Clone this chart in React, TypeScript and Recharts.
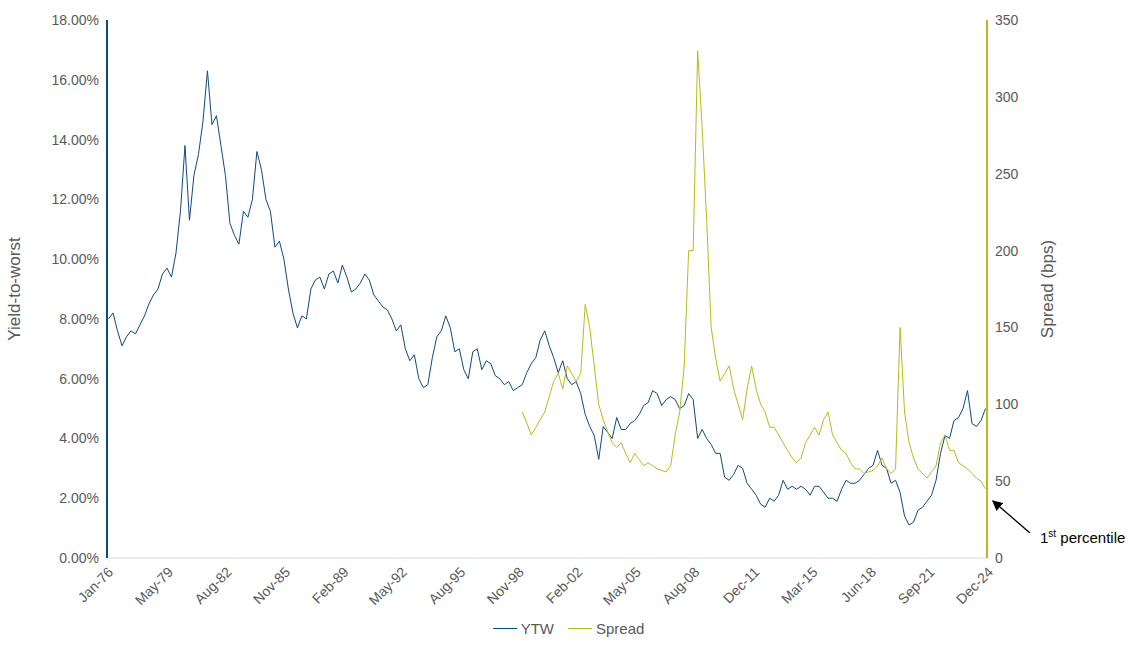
import { Legend, Line, LineChart, XAxis, YAxis } from 'recharts';

// Quarterly readings (Feb, May, Aug, Nov) per year
const ytwStartYear = 1976;
const ytwQuarterly = [
  8.0, 8.2, 7.6, 7.1, 7.4, 7.6, 7.5, 7.8, 8.1, 8.5, 8.8, 9.0, 9.5, 9.7, 9.4, 10.2,
  11.6, 13.8, 11.3, 12.8, 13.5, 14.6, 16.3, 14.5, 14.8, 13.8, 12.8, 11.2, 10.8, 10.5, 11.6, 11.4,
  12.0, 13.6, 13.0, 12.0, 11.6, 10.4, 10.6, 10.0, 9.0, 8.2, 7.7, 8.1, 8.0, 9.0, 9.3, 9.4,
  9.0, 9.5, 9.6, 9.2, 9.8, 9.4, 8.9, 9.0, 9.2, 9.5, 9.3, 8.8, 8.6, 8.4, 8.3, 8.0,
  7.6, 7.8, 7.0, 6.6, 6.8, 6.0, 5.7, 5.8, 6.7, 7.4, 7.6, 8.1, 7.7, 6.9, 7.0, 6.3,
  6.0, 6.9, 7.0, 6.3, 6.6, 6.5, 6.1, 6.0, 5.8, 5.9, 5.6, 5.7, 5.8, 6.2, 6.5, 6.7,
  7.3, 7.6, 7.1, 6.7, 6.2, 6.6, 6.0, 5.8, 5.9, 5.5, 4.8, 4.4, 4.1, 3.3, 4.4, 4.2,
  4.0, 4.7, 4.3, 4.3, 4.5, 4.6, 4.8, 5.1, 5.2, 5.6, 5.5, 5.1, 5.3, 5.4, 5.3, 5.0,
  5.1, 5.5, 5.3, 4.0, 4.3, 4.0, 3.8, 3.5, 3.5, 2.7, 2.6, 2.8, 3.1, 3.0, 2.5, 2.3,
  2.1, 1.8, 1.7, 2.0, 1.9, 2.1, 2.6, 2.3, 2.4, 2.3, 2.4, 2.3, 2.1, 2.4, 2.4, 2.2,
  2.0, 2.0, 1.9, 2.3, 2.6, 2.5, 2.5, 2.6, 2.8, 3.0, 3.1, 3.6, 3.1, 3.0, 2.5, 2.6,
  2.2, 1.4, 1.1, 1.2, 1.6, 1.7, 1.9, 2.1, 2.6, 3.5, 4.1, 4.0, 4.6, 4.7, 5.0, 5.6,
  4.5, 4.4, 4.6, 5.0,
];
const spreadStartYear = 1999;
const spreadQuarterly = [
  95, 88, 80, 85, 90, 95, 105, 115, 120, 110, 125, 120, 115, 120, 165, 150,
  125, 100, 90, 82, 75, 72, 75, 68, 62, 68, 64, 60, 62, 60, 58, 57,
  56, 60, 80, 95, 125, 200, 200, 330, 280, 220, 150, 130, 115, 120, 125, 110,
  100, 90, 110, 125, 110, 100, 95, 85, 85, 80, 75, 70, 65, 62, 65, 75,
  80, 85, 80, 90, 95, 80, 75, 70, 68, 62, 58, 58, 55, 56, 57, 60,
  65, 58, 55, 58, 150, 95, 75, 65, 58, 55, 52, 56, 60, 75, 80, 70,
  70, 62, 60, 58, 55, 52, 50, 45,
];
const tickLabels = [
  'Jan-76', 'May-79', 'Aug-82', 'Nov-85', 'Feb-89', 'May-92', 'Aug-95', 'Nov-98',
  'Feb-02', 'May-05', 'Aug-08', 'Dec-11', 'Mar-15', 'Jun-18', 'Sep-21', 'Dec-24',
];
const leftTicks = [0, 2, 4, 6, 8, 10, 12, 14, 16, 18];
const rightTicks = [0, 50, 100, 150, 200, 250, 300, 350];

const MONTHS = ['Jan', 'Feb', 'Mar', 'Apr', 'May', 'Jun', 'Jul', 'Aug', 'Sep', 'Oct', 'Nov', 'Dec'];
const labelToIndex = (s: string) => {
  const [mon, yy] = s.split('-');
  const year = 1900 + Number(yy) + (Number(yy) < 50 ? 100 : 0);
  return (year - 1976) * 12 + MONTHS.indexOf(mon);
};
const tickIndex = tickLabels.map(labelToIndex);
const tickMap = new Map(tickIndex.map((m, i) => [m, tickLabels[i]]));

const byMonth = new Map<number, { m: number; ytw?: number; spread?: number }>();
ytwQuarterly.forEach((v, i) => {
  const m = (ytwStartYear - 1976) * 12 + Math.floor(i / 4) * 12 + 1 + (i % 4) * 3;
  byMonth.set(m, { ...(byMonth.get(m) ?? { m }), ytw: v });
});
spreadQuarterly.forEach((v, i) => {
  const m = (spreadStartYear - 1976) * 12 + Math.floor(i / 4) * 12 + 1 + (i % 4) * 3;
  byMonth.set(m, { ...(byMonth.get(m) ?? { m }), spread: v });
});
const data = [...byMonth.values()].sort((a, b) => a.m - b.m);

const BLUE = '#0e4a7c';
const OLIVE = '#b5bd1c';
const tickStyle = { fill: '#595959', fontSize: 14, fontFamily: 'Liberation Sans, Arial' };

const LegendContent = () => (
  <div style={{ display: 'flex', justifyContent: 'center', gap: 14, fontSize: 15, color: '#595959', paddingLeft: 0 }}>
    {[['YTW', BLUE], ['Spread', OLIVE]].map(([name, color]) => (
      <span key={name} style={{ display: 'flex', alignItems: 'center', gap: 4 }}>
        <span style={{ width: 24, height: 0, borderTop: `1.5px solid ${color}` }} />
        {name}
      </span>
    ))}
  </div>
);

export default function App() {
  return (
    <div style={{ position: 'absolute', left: 0, top: 0, width: 1137, height: 645, background: '#fff', fontFamily: 'Liberation Sans, Arial' }}>
      <LineChart width={1137} height={645} data={data} margin={{ top: 20, right: 0, left: 0, bottom: 0 }}>
        <XAxis
          dataKey="m"
          type="number"
          domain={[0, 587]}
          ticks={tickIndex}
          tickFormatter={(m) => tickMap.get(m) ?? ''}
          angle={-45}
          textAnchor="end"
          height={62}
          interval={0}
          tick={tickStyle}
          axisLine={{ stroke: '#d9d9d9' }}
          tickLine={false}
        />
        <YAxis
          yAxisId="l"
          domain={[0, 18]}
          ticks={leftTicks}
          tickFormatter={(v) => `${v.toFixed(2)}%`}
          width={107}
          tick={tickStyle}
          axisLine={{ stroke: BLUE, strokeWidth: 2 }}
          tickLine={false}
          label={{ value: 'Yield-to-worst', angle: -90, position: 'insideLeft', offset: 14, style: { fill: '#595959', fontSize: 17, textAnchor: 'middle' } }}
        />
        <YAxis
          yAxisId="r"
          orientation="right"
          domain={[0, 350]}
          ticks={rightTicks}
          width={150}
          tick={tickStyle}
          axisLine={{ stroke: OLIVE, strokeWidth: 2 }}
          tickLine={false}
          label={{ value: 'Spread (bps)', angle: -90, position: 'insideRight', offset: 90, style: { fill: '#595959', fontSize: 17, textAnchor: 'middle' } }}
        />
        <Legend verticalAlign="bottom" height={25} content={LegendContent} />
        <Line yAxisId="l" dataKey="ytw" name="YTW" stroke={BLUE} strokeWidth={1} dot={false} connectNulls isAnimationActive={false} />
        <Line yAxisId="r" dataKey="spread" name="Spread" stroke={OLIVE} strokeWidth={1} dot={false} connectNulls isAnimationActive={false} />
      </LineChart>
      <svg style={{ position: 'absolute', left: 0, top: 0 }} width={1137} height={645}>
        <defs>
          <marker id="ah" markerWidth="8" markerHeight="8" refX="7" refY="4" orient="auto">
            <path d="M0,0 L8,4 L0,8 z" fill="#000" />
          </marker>
        </defs>
        <line x1={1030} y1={533} x2={993} y2={501} stroke="#000" strokeWidth={1.3} markerEnd="url(#ah)" />
      </svg>
      <div style={{ position: 'absolute', left: 1040, top: 528, fontSize: 15, color: '#000' }}>
        1<sup style={{ fontSize: 10 }}>st</sup> percentile
      </div>
    </div>
  );
}
